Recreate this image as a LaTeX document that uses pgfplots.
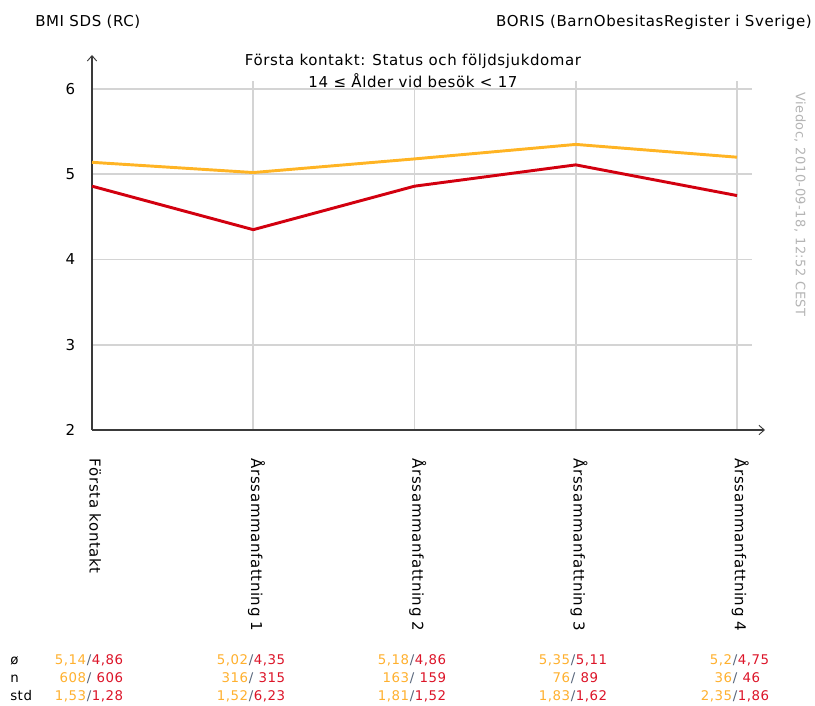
\documentclass[border=0pt]{standalone}
\usepackage{fontspec}
\setmainfont{DejaVu Sans}[LetterSpace=4]
\usepackage{pgfplots}
\pgfplotsset{compat=1.18}
\usetikzlibrary{arrows.meta}
\definecolor{lorange}{HTML}{FFB424}
\definecolor{lred}{HTML}{D2000F}
\definecolor{torange}{HTML}{FFB02E}
\definecolor{tred}{HTML}{DC1428}
\definecolor{tslash}{HTML}{56647A}
\definecolor{caxis}{HTML}{3A3A3A}
\definecolor{cgrid}{HTML}{D4D4D4}
\definecolor{cstamp}{HTML}{B4B4B4}
% one cell of the summary table: slash x, row y, orange value, red value
\newcommand\cell[4]{%
  \node[anchor=mid east,inner sep=0,text=torange] at ({(#1-2)*1pt},{#2*1pt}) {#3};
  \node[anchor=mid,inner sep=0,text=tslash] at ({#1*1pt},{#2*1pt}) {/};
  \node[anchor=mid west,inner sep=0,text=tred] at ({(#1+2)*1pt},{#2*1pt}) {#4};}
\begin{document}
\begin{tikzpicture}[font=\fontsize{11.25}{13.5}\selectfont]
\begin{axis}[
    at={(0,0)}, anchor=south west,
    scale only axis,
    width=495pt, height=261.75pt,
    xmin=0, xmax=4.093,
    ymin=2, ymax=6.094,
    axis lines=left,
    axis line style={color=caxis, line width=1.3pt},
    x axis line style={-{Straight Barb[length=4pt,width=7pt,line width=0.7pt]}, shorten >=-9.75pt},
    y axis line style={-{Straight Barb[length=4pt,width=7pt,line width=0.7pt]}, shorten >=-19.5pt},
    xtick={0,1,2,3,4},
    xticklabels={Första kontakt, Årssammanfattning 1, Årssammanfattning 2, Årssammanfattning 3, Årssammanfattning 4},
    ytick={2,3,4,5,6},
    tick style={draw=none},
    grid=major,
    grid style={color=cgrid, line width=1.4pt},
    x tick label style={xshift=2.5pt, rotate=-90, anchor=west},
    xticklabel shift=16pt,
    y tick label style={anchor=east, xshift=-7pt},
    /pgf/number format/assume math mode=true,
    clip=false,
]
\addplot[color=lorange, line width=2.2pt] coordinates {
    (0,5.14) (1,5.02) (2,5.18) (3,5.35) (4,5.20)
};
\addplot[color=lred, line width=2.2pt] coordinates {
    (0,4.86) (1,4.35) (2,4.86) (3,5.11) (4,4.75)
};
\end{axis}
% header texts
\node[anchor=west,inner sep=0] at (-42.75pt,306pt) {BMI SDS (RC)};
\node[anchor=east,inner sep=0] at (540pt,306pt) {BORIS (BarnObesitasRegister i Sverige)};
\node at (240.75pt,276.75pt) {Första kontakt: Status och följdsjukdomar};
\node at (240.75pt,262pt) {14 ≤ Ålder vid besök < 17};
\node[anchor=west, inner sep=0, rotate=-90, text=cstamp, font=\fontsize{9.75}{12}\selectfont] at (531pt,253.5pt) {Viedoc, 2010-09-18, 12:52 CEST};
% summary table
\begin{scope}[font=\fontsize{10}{12}\selectfont]
\node[anchor=mid west,inner sep=0] at (-61.5pt,-173.25pt) {ø};
\node[anchor=mid west,inner sep=0] at (-61.5pt,-186.75pt) {n};
\node[anchor=mid west,inner sep=0] at (-61.5pt,-200.25pt) {std};
\cell{-2.25}{-173.25}{5,14}{4,86}
\cell{-2.25}{-186.75}{608}{\ 606}
\cell{-2.25}{-200.25}{1,53}{1,28}
\cell{119.25}{-173.25}{5,02}{4,35}
\cell{119.25}{-186.75}{316}{\ 315}
\cell{119.25}{-200.25}{1,52}{6,23}
\cell{240}{-173.25}{5,18}{4,86}
\cell{240}{-186.75}{163}{\ 159}
\cell{240}{-200.25}{1,81}{1,52}
\cell{360.75}{-173.25}{5,35}{5,11}
\cell{360.75}{-186.75}{76}{\ 89}
\cell{360.75}{-200.25}{1,83}{1,62}
\cell{482.25}{-173.25}{5,2}{4,75}
\cell{482.25}{-186.75}{36}{\ 46}
\cell{482.25}{-200.25}{2,35}{1,86}
\end{scope}
\pgfresetboundingbox
\useasboundingbox (-69pt,322.5pt) rectangle (542.25pt,-207pt);
\end{tikzpicture}
\end{document}
